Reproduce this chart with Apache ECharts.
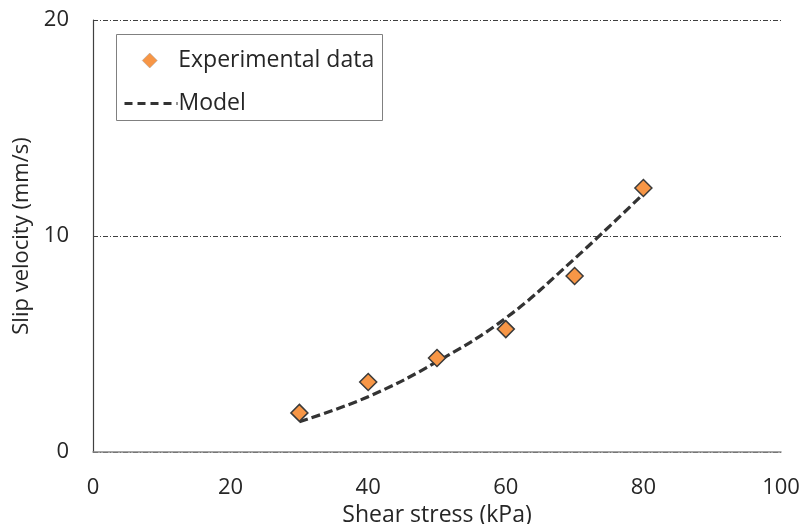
<!DOCTYPE html>
<html>
<head>
<meta charset="utf-8">
<script src="https://cdn.jsdelivr.net/npm/echarts@6/dist/echarts.min.js"></script>
<style>
  html, body { margin: 0; padding: 0; background: #ffffff; }
  #chart { width: 805px; height: 524px; }
</style>
</head>
<body>
<div id="chart"></div>
<script>
// Shear stress (kPa) for each test
var shearStress = [30, 40, 50, 60, 70, 80];
// Measured slip velocity (mm/s)
var experimentalVelocity = [1.81, 3.24, 4.35, 5.69, 8.15, 12.22];
// Model prediction (mm/s) at the same shear stresses
var modelVelocity = [1.40, 2.56, 4.18, 6.20, 8.95, 11.95];

var xTicks = { min: 0, max: 100, interval: 20 };
var yTicks = { min: 0, max: 20, interval: 10 };

var FONT = '"Open Sans", "Noto Sans", sans-serif';

var expPoints = shearStress.map(function (x, i) { return [x, experimentalVelocity[i]]; });
var modelPoints = shearStress.map(function (x, i) { return [x, modelVelocity[i]]; });

var chart = echarts.init(document.getElementById('chart'), null, { renderer: 'canvas' });

chart.setOption({
  animation: false,
  backgroundColor: '#ffffff',
  textStyle: { fontFamily: FONT },
  grid: { left: 93, right: 24, top: 20, bottom: 72, containLabel: false, outerBoundsMode: 'none' },
  xAxis: {
    type: 'value',
    min: xTicks.min, max: xTicks.max, interval: xTicks.interval,
    name: 'Shear stress (kPa)',
    nameLocation: 'middle',
    nameGap: 46,
    nameTextStyle: { fontFamily: FONT, fontSize: 23, color: '#262626' },
    axisLine: { show: true, lineStyle: { color: '#868686', width: 1.5 } },
    axisTick: { show: false },
    splitLine: { show: false },
    axisLabel: { fontFamily: FONT, fontSize: 22, color: '#262626', margin: 25 },
    z: 5
  },
  yAxis: {
    type: 'value',
    min: yTicks.min, max: yTicks.max, interval: yTicks.interval,
    name: 'Slip velocity (mm/s)',
    nameLocation: 'middle',
    nameGap: 50,
    nameRotate: 90,
    nameTextStyle: { fontFamily: FONT, fontSize: 22, color: '#262626' },
    axisLine: { show: true, lineStyle: { color: '#404040', width: 1.2 } },
    axisTick: { show: false },
    splitLine: { show: true, lineStyle: { color: '#404040', width: 1, type: [5, 2, 1, 2] } },
    axisLabel: { fontFamily: FONT, fontSize: 22, color: '#262626', margin: 24 }
  },
  legend: [
    {
      data: [{ name: 'Experimental data', icon: 'diamond' }],
      left: 137, top: 44,
      orient: 'vertical',
      itemWidth: 15, itemHeight: 15,
      itemStyle: { borderColor: '#a0a0a0', borderWidth: 0.5 },
      textStyle: { fontFamily: FONT, fontSize: 23, color: '#262626', padding: [0, 0, 0, 16] }
    },
    {
      data: ['Model'],
      left: 118, top: 87,
      itemWidth: 53, itemHeight: 14,
      itemStyle: { opacity: 0 },
      lineStyle: { color: '#333333', width: 3, type: [8, 5] },
      textStyle: { fontFamily: FONT, fontSize: 23, color: '#262626', padding: [0, 0, 0, -4] }
    }
  ],
  graphic: [
    {
      type: 'rect',
      z: 0,
      shape: { x: 116.5, y: 34.5, width: 266, height: 86 },
      style: { fill: '#ffffff', stroke: '#808080', lineWidth: 1 }
    }
  ],
  series: [
    {
      name: 'Model',
      type: 'line',
      data: modelPoints,
      smooth: 0.4,
      symbol: 'none',
      z: 2,
      lineStyle: { color: '#333333', width: 3.2, type: [9, 4] },
      itemStyle: { color: '#333333' }
    },
    {
      name: 'Experimental data',
      type: 'scatter',
      data: expPoints,
      symbol: 'diamond',
      symbolSize: 17,
      z: 3,
      itemStyle: { color: '#F79646', borderColor: '#3a3a3a', borderWidth: 1.5, opacity: 1 }
    }
  ]
});
</script>
</body>
</html>
